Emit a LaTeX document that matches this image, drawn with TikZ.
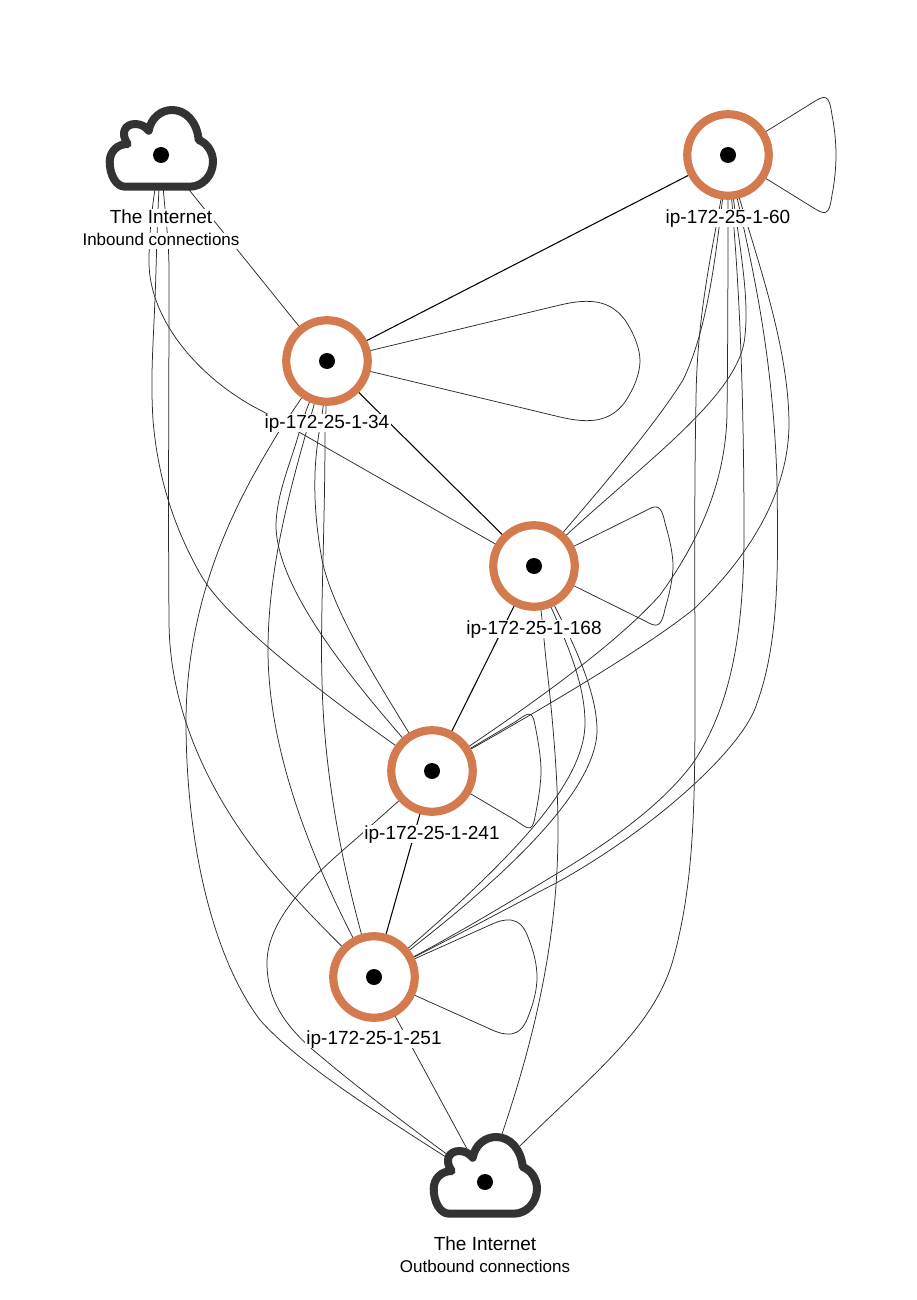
\documentclass[tikz,border=0pt]{standalone}
\usepackage{fontspec}
\setmainfont{Liberation Sans}
\usetikzlibrary{backgrounds}
\definecolor{ringc}{HTML}{D37A4F}
\definecolor{cloudc}{HTML}{333333}
\definecolor{edgec}{HTML}{2A2A2A}
\tikzset{
  ringnode/.style={circle,draw=ringc,line width=8.2pt,fill=white,minimum size=81.5pt,inner sep=0pt},
  dotnode/.style={circle,fill=black,minimum size=16pt,inner sep=0pt},
  lab/.style={fill=white,inner xsep=1.5pt,inner ysep=0pt,text height=14pt,text depth=4pt,font=\fontsize{19}{19}\selectfont},
  sublab/.style={fill=white,inner xsep=0.5pt,inner ysep=0pt,text height=12.5pt,text depth=3.5pt,font=\fontsize{17}{17}\selectfont},
  edge/.style={draw=edgec,line width=0.75pt},
  heavy/.style={draw=black,line width=1.05pt},
  inetcloud/.pic={
    \path[draw=cloudc,line width=8pt,fill=white,line join=round]
      (-35.7,31.7) .. controls (-45,31.7) and (-51.3,20) .. (-51.3,6.7)
      .. controls (-51.3,-3) and (-44,-11) .. (-33.3,-11)
      .. controls (-41,-22) and (-36,-31) .. (-25.7,-31)
      .. controls (-20,-31) and (-15,-28) .. (-12.3,-24.3)
      .. controls (-10,-37) and (0,-45) .. (11,-45)
      .. controls (25,-45) and (36,-33) .. (37.7,-15)
      .. controls (46,-12) and (52,-3) .. (52,6.7)
      .. controls (52,20) and (42,31.7) .. (28.7,31.7) -- cycle;
  }
}
\begin{document}
\begin{tikzpicture}[x=1pt,y=-1pt]
\useasboundingbox (0,0) rectangle (916,1300);
% clouds
\pic at (161,155) {inetcloud};
\pic at (485,1182) {inetcloud};
% nodes
\node[dotnode] (in) at (161,155) {};
\node[dotnode] (out) at (485,1182) {};
\node[ringnode] (r60) at (728,155) {};
\node[ringnode] (r34) at (327,361) {};
\node[ringnode] (r168) at (534,566) {};
\node[ringnode] (r241) at (432,771) {};
\node[ringnode] (r251) at (374,977) {};
\node[dotnode] (d60) at (r60) {};
\node[dotnode] (d34) at (r34) {};
\node[dotnode] (d168) at (r168) {};
\node[dotnode] (d241) at (r241) {};
\node[dotnode] (d251) at (r251) {};
% labels
\node[lab] (l-in) at (161,218) {The Internet};
\node[sublab] (s-in) at (161,241) {Inbound connections};
\node[lab] (l60) at (728,218) {ip-172-25-1-60};
\node[lab] (l34) at (327,423) {ip-172-25-1-34};
\node[lab] (l168) at (534,629) {ip-172-25-1-168};
\node[lab] (l241) at (432,834) {ip-172-25-1-241};
\node[lab] (l251) at (374,1039) {ip-172-25-1-251};
\node[lab] (l-out) at (485,1245) {The Internet};
\node[sublab] (s-out) at (485,1268) {Outbound connections};
\begin{pgfonlayer}{background}
% inbound
\draw[edge] (in.center) -- (r34.center);
\draw[edge] (in.center) .. controls (152,200) and (149,235) .. (149,262)
  .. controls (149,320) and (200,380) .. (262,411) -- (r168.center);
\draw[edge] (in.center) .. controls (158,200) and (157,235) .. (156,270)
  .. controls (154,340) and (150,370) .. (153,420)
  .. controls (158,480) and (175,530) .. (202,577)
  .. controls (225,615) and (300,680) .. (r241.center);
\draw[edge] (in.center) .. controls (163,200) and (169,235) .. (169,270)
  .. controls (169,400) and (168,500) .. (169,620)
  .. controls (169,740) and (240,840) .. (297,900)
  .. controls (320,925) and (350,955) .. (r251.center);
% r60
\draw[heavy] (r60.center) -- (r34.center);
\draw[edge] (r60.center) -- (812,103)
  .. controls (825,95) and (829,93) .. (832,115)
  .. controls (835,130) and (836,145) .. (836,155)
  .. controls (836,165) and (835,180) .. (832,195)
  .. controls (829,217) and (825,215) .. (812,207) -- (r60.center);
\draw[edge] (r60.center) .. controls (718,230) and (697,300) .. (696,400)
  .. controls (694,500) and (695,600) .. (695,680)
  .. controls (695,800) and (695,880) .. (673,960)
  .. controls (650,1040) and (570,1090) .. (out.center);
\draw[edge] (r60.center) .. controls (718,230) and (712,320) .. (683,380)
  .. controls (655,425) and (600,490) .. (r168.center);
\draw[edge] (r60.center) .. controls (728,240) and (728,330) .. (727,413)
  .. controls (726,480) and (700,540) .. (660,595)
  .. controls (620,640) and (540,700) .. (r241.center);
\draw[edge] (r60.center) .. controls (736,230) and (750,290) .. (745,335)
  .. controls (741,400) and (625,475) .. (r168.center);
\draw[edge] (r60.center) .. controls (735,240) and (743,320) .. (744,513)
  .. controls (745,620) and (735,700) .. (693,763)
  .. controls (660,808) and (600,848) .. (558,873)
  .. controls (500,908) and (430,950) .. (r251.center);
\draw[edge] (r60.center) .. controls (745,230) and (788,330) .. (789,423)
  .. controls (789,500) and (740,565) .. (695,608)
  .. controls (650,645) and (550,705) .. (r241.center);
\draw[edge] (r60.center) .. controls (745,240) and (772,330) .. (777,480)
  .. controls (778,560) and (780,640) .. (757,703)
  .. controls (745,745) and (660,825) .. (558,882)
  .. controls (500,912) and (430,950) .. (r251.center);
% r34
\draw[edge] (r34.center) -- (560,305)
  .. controls (590,298) and (610,300) .. (625,320)
  .. controls (635,335) and (640,350) .. (640,361)
  .. controls (640,372) and (635,387) .. (625,402)
  .. controls (610,422) and (590,424) .. (560,417) -- (r34.center);
\draw[heavy] (r34.center) -- (r168.center);
\draw[edge] (r34.center) .. controls (300,400) and (290,415) .. (278,433)
  .. controls (250,480) and (187,580) .. (186,720)
  .. controls (186,850) and (215,960) .. (260,1020)
  .. controls (300,1065) and (380,1115) .. (out.center);
\draw[edge] (r34.center) .. controls (305,410) and (303,420) .. (299,433)
  .. controls (290,465) and (276,495) .. (276,527)
  .. controls (278,590) and (350,680) .. (r241.center);
\draw[edge] (r34.center) .. controls (325,400) and (322,415) .. (319,433)
  .. controls (313,470) and (313,510) .. (322,560)
  .. controls (335,620) and (390,700) .. (r241.center);
\draw[edge] (r34.center) .. controls (315,400) and (310,420) .. (306,433)
  .. controls (290,490) and (268,570) .. (268,650)
  .. controls (268,760) and (320,880) .. (r251.center);
\draw[edge] (r34.center) .. controls (326,400) and (326,420) .. (325,433)
  .. controls (325,530) and (320,620) .. (322,680)
  .. controls (324,790) and (350,900) .. (r251.center);
% r168
\draw[edge] (r168.center) -- (645,511)
  .. controls (656,505) and (661,503) .. (665,523)
  .. controls (670,540) and (673,555) .. (673,566)
  .. controls (673,577) and (670,592) .. (665,609)
  .. controls (661,629) and (656,627) .. (645,621) -- (r168.center);
\draw[heavy] (r168.center) -- (r241.center);
\draw[edge] (r168.center) .. controls (541,600) and (543,630) .. (546,660)
  .. controls (553,720) and (558,780) .. (558,830)
  .. controls (558,950) and (530,1060) .. (out.center);
\draw[edge] (r168.center) .. controls (552,615) and (585,670) .. (585,723)
  .. controls (585,770) and (540,825) .. (480,883)
  .. controls (445,917) and (410,947) .. (r251.center);
\draw[edge] (r168.center) .. controls (556,610) and (597,680) .. (597,730)
  .. controls (597,775) and (545,835) .. (480,892)
  .. controls (445,923) and (410,950) .. (r251.center);
% r241
\draw[edge] (r241.center) -- (515,722)
  .. controls (527,714) and (532,708) .. (535,725)
  .. controls (539,745) and (541,760) .. (541,771)
  .. controls (541,782) and (539,797) .. (535,817)
  .. controls (532,834) and (527,828) .. (515,820) -- (r241.center);
\draw[heavy] (r241.center) -- (r251.center);
\draw[edge] (r241.center) .. controls (400,800) and (375,822) .. (357,838)
  .. controls (320,870) and (267,915) .. (267,963)
  .. controls (267,1000) and (285,1025) .. (312,1049)
  .. controls (360,1090) and (420,1135) .. (out.center);
% r251
\draw[edge] (r251.center) -- (490,925)
  .. controls (505,918) and (520,915) .. (528,937)
  .. controls (534,952) and (537,965) .. (537,977)
  .. controls (537,989) and (534,1002) .. (528,1017)
  .. controls (520,1039) and (505,1036) .. (490,1029) -- (r251.center);
\draw[edge] (r251.center) -- (out.center);
\end{pgfonlayer}
\end{tikzpicture}
\end{document}
